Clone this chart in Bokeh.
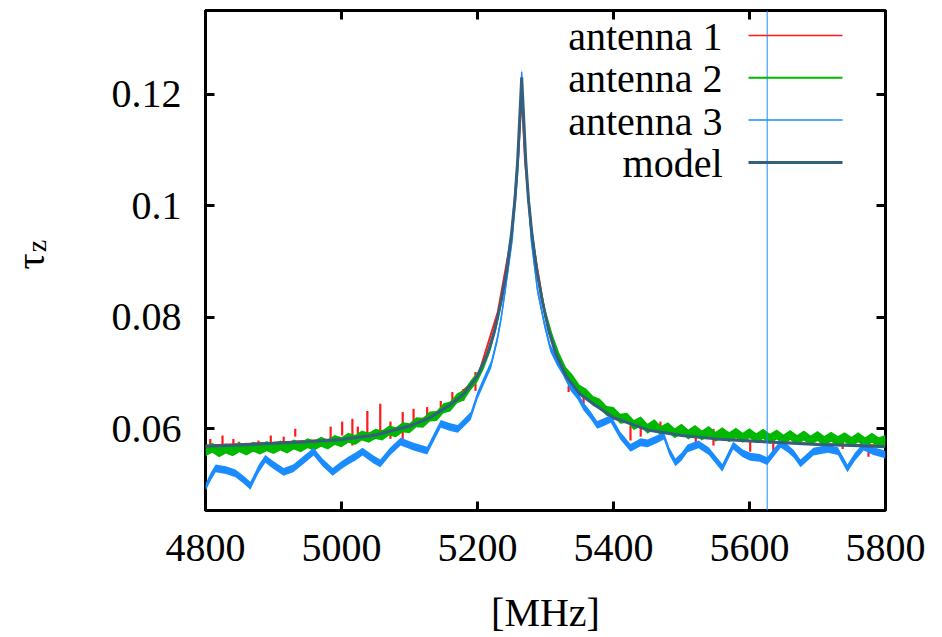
import numpy as np
from bokeh.plotting import figure
from bokeh.layouts import row
from bokeh.models import (Range1d, FixedTicker, PrintfTickFormatter, LinearAxis,
                          Label, BoxAnnotation, Span)
from bokeh.embed import file_html
from bokeh.resources import INLINE

# ---------------- data ----------------
model_freq = [4800, 4850, 4900, 4950, 5000, 5050, 5100, 5130, 5160, 5180, 5200, 5215, 5225,
              5235, 5243, 5250, 5255, 5259, 5262, 5264, 5265, 5266, 5268, 5271, 5275, 5280,
              5287, 5295, 5305, 5315, 5330, 5350, 5370, 5400, 5450, 5500, 5550, 5600, 5650,
              5700, 5750, 5800]
model_tau = [0.0569, 0.0571, 0.0574, 0.0577, 0.0581, 0.0589, 0.0605, 0.0620, 0.0643, 0.0663,
             0.0695, 0.0735, 0.0775, 0.0830, 0.0885, 0.0950, 0.1010, 0.1080, 0.1155, 0.1205,
             0.1230, 0.1205, 0.1155, 0.1080, 0.1010, 0.0950, 0.0885, 0.0830, 0.0775, 0.0735,
             0.0695, 0.0663, 0.0645, 0.0620, 0.0598, 0.0588, 0.0582, 0.0578, 0.0575, 0.0572,
             0.0570, 0.0568]

ant1_freq = [4800, 4900, 5000, 5100, 5150, 5200, 5230, 5250, 5260, 5265, 5270, 5280, 5300,
             5330, 5400, 5500, 5600, 5700, 5800]
ant1_tau = [0.0570, 0.0575, 0.0582, 0.0606, 0.0636, 0.0692, 0.0810, 0.0945, 0.1090, 0.1200,
            0.1080, 0.0945, 0.0800, 0.0690, 0.0618, 0.0589, 0.0579, 0.0573, 0.0570]
ant1_spike_freq = [4807, 4825, 4841, 4849, 4878, 4896, 4915, 4932, 4957, 4984, 5001, 5016,
                   5024, 5038, 5057, 5072, 5090, 5106, 5126, 5146, 5163, 5179, 5197, 5334,
                   5356, 5396, 5425, 5440, 5469, 5494, 5521, 5547, 5568, 5601, 5635, 5656,
                   5709, 5737, 5775]
ant1_spike_lo = [0.0573, 0.0555, 0.0559, 0.0559, 0.0564, 0.0568, 0.0573, 0.0586, 0.0555,
                 0.0582, 0.0588, 0.0570, 0.0577, 0.0591, 0.0596, 0.0582, 0.0582, 0.0614,
                 0.0614, 0.0627, 0.0641, 0.0650, 0.0668, 0.0666, 0.0645, 0.0621, 0.0579,
                 0.0586, 0.0595, 0.0591, 0.0573, 0.0570, 0.0579, 0.0559, 0.0561, 0.0561,
                 0.0561, 0.0564, 0.0550]
ant1_spike_hi = [0.0582, 0.0588, 0.0582, 0.0577, 0.0579, 0.0588, 0.0586, 0.0600, 0.0573,
                 0.0604, 0.0613, 0.0618, 0.0604, 0.0632, 0.0645, 0.0613, 0.0630, 0.0636,
                 0.0639, 0.0650, 0.0666, 0.0671, 0.0702, 0.0677, 0.0659, 0.0630, 0.0605,
                 0.0605, 0.0613, 0.0600, 0.0600, 0.0600, 0.0595, 0.0577, 0.0577, 0.0570,
                 0.0573, 0.0577, 0.0568]

ant2_freq = sorted(set(list(range(4800, 5260, 10)) + [5255, 5260, 5265, 5270, 5275]
                       + list(range(5280, 5810, 10))))
ant2_tau = [0.0560, 0.0566, 0.0558, 0.0565, 0.0560, 0.0567, 0.0561, 0.0568, 0.0563, 0.0569,
            0.0564, 0.0570, 0.0565, 0.0572, 0.0567, 0.0574, 0.0570, 0.0577, 0.0572, 0.0580,
            0.0576, 0.0584, 0.0580, 0.0588, 0.0584, 0.0591, 0.0588, 0.0597, 0.0594, 0.0603,
            0.0601, 0.0612, 0.0611, 0.0622, 0.0623, 0.0637, 0.0640, 0.0655, 0.0660, 0.0678,
            0.0693, 0.0718, 0.0752, 0.0800, 0.0862, 0.0950,
            0.1010, 0.1100, 0.1215, 0.1100, 0.1010,
            0.0955, 0.0865, 0.0805, 0.0762, 0.0728, 0.0702, 0.0688, 0.0670, 0.0663, 0.0650,
            0.0645, 0.0632, 0.0630, 0.0618, 0.0620, 0.0607, 0.0613, 0.0600, 0.0608, 0.0596,
            0.0603, 0.0592, 0.0600, 0.0590, 0.0598, 0.0588, 0.0596, 0.0586, 0.0594, 0.0585,
            0.0593, 0.0584, 0.0592, 0.0583, 0.0591, 0.0582, 0.0590, 0.0581, 0.0589, 0.0580,
            0.0588, 0.0579, 0.0587, 0.0578, 0.0586, 0.0578, 0.0585, 0.0577, 0.0585, 0.0576,
            0.0584, 0.0576, 0.0580]

ant3_freq = [4800, 4808, 4815, 4830, 4844, 4855, 4866, 4878, 4888, 4900, 4915, 4929, 4945,
             4959, 4972, 4987, 5000, 5010, 5020, 5031, 5047, 5057, 5072, 5087, 5106, 5126,
             5136, 5146, 5160, 5171, 5190, 5200, 5210, 5220, 5229, 5235, 5241, 5251, 5259,
             5263, 5265, 5267, 5272, 5279, 5288, 5298, 5307, 5317, 5326, 5337, 5347, 5356,
             5366, 5376, 5386, 5396, 5410, 5425, 5440, 5450, 5465, 5474, 5482, 5491, 5500,
             5509, 5525, 5540, 5560, 5576, 5590, 5601, 5615, 5626, 5646, 5656, 5665, 5675,
             5694, 5715, 5730, 5744, 5755, 5768, 5782, 5797, 5800]
ant3_tau = [0.0495, 0.0515, 0.0529, 0.0526, 0.0520, 0.0510, 0.0498, 0.0528, 0.0546, 0.0535,
            0.0523, 0.0529, 0.0545, 0.0559, 0.0540, 0.0523, 0.0535, 0.0543, 0.0550, 0.0559,
            0.0545, 0.0538, 0.0560, 0.0577, 0.0568, 0.0561, 0.0585, 0.0609, 0.0603, 0.0600,
            0.0623, 0.0660, 0.0688, 0.0715, 0.0760, 0.0800, 0.0850, 0.0939, 0.1059, 0.1160,
            0.1240, 0.1160, 0.1059, 0.0939, 0.0850, 0.0790, 0.0745, 0.0720, 0.0702, 0.0675,
            0.0660, 0.0640, 0.0625, 0.0607, 0.0612, 0.0618, 0.0588, 0.0566, 0.0576, 0.0574,
            0.0582, 0.0588, 0.0560, 0.0540, 0.0550, 0.0565, 0.0572, 0.0560, 0.0530, 0.0570,
            0.0556, 0.0550, 0.0548, 0.0542, 0.0573, 0.0565, 0.0555, 0.0538, 0.0559, 0.0564,
            0.0560, 0.0529, 0.0550, 0.0568, 0.0560, 0.0555, 0.0553]
ant3_glitch_freq = [5626]

x_ticks = [4800, 5000, 5200, 5400, 5600, 5800]
y_ticks = [0.06, 0.08, 0.1, 0.12]
legend_labels = ["antenna 1", "antenna 2", "antenna 3", "model"]

# ---------------- styles ----------------
W, H = 942, 637
STRIP = 60                      # narrow left strip holding the rotated y label
FRAME_L, FRAME_B = 205, 512     # frame left / bottom in page pixels
FONT = "Liberation Serif"
RED, GREEN, BLUE, MODEL = "#ff1a1a", "#00b800", "#1a8cff", "#33607f"

p = figure(width=W - STRIP, height=H, output_backend="svg", toolbar_location=None,
           x_range=Range1d(4800, 5800), y_range=Range1d(0.04536, 0.135),
           min_border_left=FRAME_L - STRIP, min_border_right=57, min_border_top=10,
           min_border_bottom=H - FRAME_B, background_fill_color="white",
           border_fill_color="white")
p.grid.visible = False
p.outline_line_color = "black"
p.outline_line_width = 3

# antenna 1 (red): base trace + spikes
p.line(ant1_freq, ant1_tau, line_color=RED, line_width=2)
p.segment(x0=ant1_spike_freq, y0=ant1_spike_lo, x1=ant1_spike_freq, y1=ant1_spike_hi,
          line_color=RED, line_width=2.2)

# antenna 2 (green): noisy band
g = np.array(ant2_tau)
p.varea(x=ant2_freq, y1=g - 0.0009, y2=g + 0.0009, fill_color=GREEN)
p.line(ant2_freq, ant2_tau, line_color=GREEN, line_width=1.5)

# antenna 3 (blue): noisy band
b = np.array(ant3_tau)
p.varea(x=ant3_freq, y1=b - 0.0007, y2=b + 0.0007, fill_color=BLUE)
p.line(ant3_freq, ant3_tau, line_color=BLUE, line_width=1.5)
p.add_layout(Span(location=ant3_glitch_freq[0], dimension="height",
                  line_color=BLUE, line_width=1))

# model
p.line(model_freq, model_tau, line_color=MODEL, line_width=3)

# axes
def style_axis(ax, ticks, show_labels, standoff=0):
    ax.ticker = FixedTicker(ticks=ticks)
    ax.formatter = PrintfTickFormatter(format="%g")
    ax.axis_line_color = None
    ax.major_tick_in = 9
    ax.major_tick_out = 0
    ax.major_tick_line_width = 3
    ax.major_tick_line_color = "black"
    ax.minor_tick_line_color = None
    ax.major_label_text_font = FONT
    if show_labels:
        ax.major_label_text_color = "black"
        ax.major_label_text_font_size = "40px"
        ax.major_label_standoff = standoff
    else:
        ax.major_label_text_color = None
        ax.major_label_text_font_size = "10px"
        ax.major_label_standoff = 0

style_axis(p.xaxis[0], x_ticks, True, 24)
style_axis(p.yaxis[0], y_ticks, True, 24)
p.xaxis[0].axis_label = "[MHz]"
p.xaxis[0].axis_label_text_font = FONT
p.xaxis[0].axis_label_text_font_size = "40px"
p.xaxis[0].axis_label_text_font_style = "normal"
p.xaxis[0].axis_label_text_color = "black"
p.xaxis[0].axis_label_standoff = 26

top_ax = LinearAxis()
right_ax = LinearAxis()
style_axis(top_ax, x_ticks, False)
style_axis(right_ax, y_ticks, False)
p.add_layout(top_ax, "above")
p.add_layout(right_ax, "right")

# legend (gnuplot style: text right-aligned, sample line to the right);
# screen units here are measured from the frame's bottom-left corner
def fx(x_page):
    return x_page - FRAME_L

def fy(y_page):
    return FRAME_B - y_page

legend_colors = [RED, GREEN, BLUE, MODEL]
legend_thick = [1.5, 2, 1.5, 3]
for i, (lab, col, th) in enumerate(zip(legend_labels, legend_colors, legend_thick)):
    yline = 37 + 42.3 * i
    p.add_layout(Label(x=fx(722), y=fy(yline + 1), x_units="screen", y_units="screen",
                       text=lab, text_font=FONT, text_font_size="40px",
                       text_color="black", text_align="right",
                       text_baseline="alphabetic"))
    p.add_layout(BoxAnnotation(left=fx(748), right=fx(842), top=fy(yline - th / 2),
                               bottom=fy(yline + th / 2),
                               left_units="screen", right_units="screen",
                               top_units="screen", bottom_units="screen",
                               fill_color=col, fill_alpha=1.0, line_color=None))

# left strip with the y-axis label tau_z (rotated, subscript z)
s = figure(width=STRIP, height=H, output_backend="svg", toolbar_location=None,
           x_range=Range1d(0, STRIP), y_range=Range1d(0, H), min_border=0,
           x_axis_type=None, y_axis_type=None, outline_line_color=None,
           background_fill_color="white", border_fill_color="white")
s.grid.visible = False
s.add_layout(Label(x=30, y=H - 330, text="τ", angle=np.pi / 2, text_font=FONT,
                   text_font_size="40px", text_color="black",
                   text_baseline="alphabetic", text_align="left"))
s.add_layout(Label(x=36, y=H - 308, text="z", angle=np.pi / 2, text_font=FONT,
                   text_font_size="28px", text_color="black",
                   text_baseline="alphabetic", text_align="left"))

layout = row(s, p, spacing=0)
open("out.html", "w").write(file_html(layout, INLINE))
